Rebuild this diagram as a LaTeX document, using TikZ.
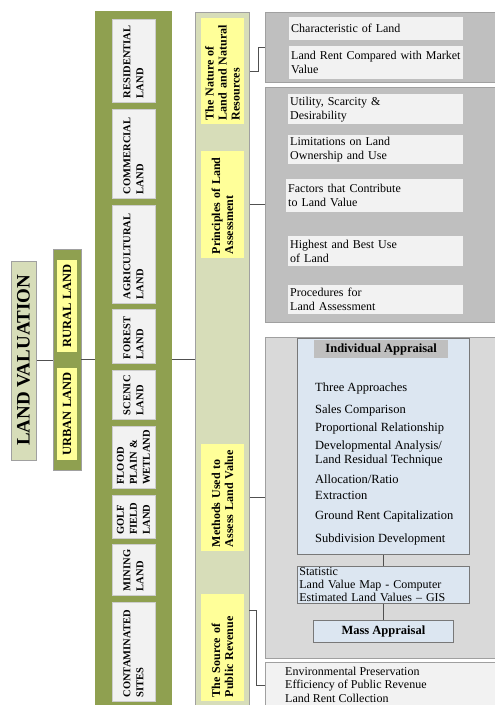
\documentclass[tikz,border=0pt]{standalone}
\usepackage{fontspec}
\setmainfont{Liberation Serif}
\definecolor{lvfill}{RGB}{215,221,185}
\definecolor{olive}{RGB}{143,160,80}
\definecolor{yel}{RGB}{255,255,153}
\definecolor{boxgray}{RGB}{242,242,242}
\definecolor{grpdark}{RGB}{191,191,191}
\definecolor{grpmid}{RGB}{217,217,217}
\definecolor{bluef}{RGB}{220,230,241}
\definecolor{linec}{RGB}{80,80,80}
\definecolor{bordc}{RGB}{160,160,160}
\definecolor{lbord}{RGB}{205,205,205}
\definecolor{iabord}{RGB}{120,120,120}
\begin{document}
\begin{tikzpicture}[x=1pt,y=-1pt,
  conn/.style={draw=linec, line width=1pt},
  lvbox/.style={rotate=90, draw=bordc, fill=lvfill, line width=1pt, inner sep=0pt,
    font=\bfseries\fontsize{19}{22}\selectfont},
  rbox/.style={rotate=90, fill=yel, inner sep=0pt, align=center,
    font=\bfseries\fontsize{12.5}{14}\selectfont},
  landbox/.style={rotate=90, draw=lbord, fill=boxgray, inner sep=0pt, align=left,
    minimum height=43, font=\bfseries\fontsize{10.5}{13}\selectfont},
  topicbox/.style={rotate=90, fill=yel, inner sep=0pt, align=left,
    minimum height=43, font=\bfseries\fontsize{12}{13}\selectfont},
  colbox/.style={anchor=north west, inner sep=0pt},
  grp/.style={anchor=north west, inner sep=0pt, draw=bordc, line width=1pt},
  txtbox/.style={anchor=north west, inner sep=0pt, fill=boxgray, align=left,
    font=\fontsize{12}{14}\selectfont},
  bluebox/.style={anchor=north west, inner sep=0pt, fill=bluef, draw=iabord, line width=0.8pt},
  ialine/.style={anchor=base west, inner sep=0pt, font=\fontsize{12.5}{14}\selectfont},
  plain/.style={anchor=base west, inner sep=0pt, font=\fontsize{12}{14}\selectfont}
]
\path[use as bounding box] (0,0) rectangle (495,705);
\clip (0,0) rectangle (495,705);

% left title
\node[lvbox, minimum width=199, minimum height=25] (lv) at (23.5,360.5) {LAND VALUATION};

% urban / rural
\node[colbox, draw=bordc, fill=olive, minimum width=28, minimum height=221] (ur) at (53,249) {};
\node[rbox, minimum width=92, minimum height=20] (rural) at (67,306) {RURAL LAND};
\node[rbox, minimum width=92, minimum height=20] (urban) at (67,414) {URBAN LAND};

% land types column
\node[colbox, fill=olive, minimum width=77, minimum height=720] (landcol) at (95,11) {};
\node[landbox, minimum width=83, text width=75] (res) at (133.5,60.5) {RESIDENTIAL\\LAND};
\node[landbox, minimum width=89, text width=81] (com) at (133.5,153.5) {COMMERCIAL\\LAND};
\node[landbox, minimum width=98, text width=90] (agr) at (133.5,254) {AGRICULTURAL\\LAND};
\node[landbox, minimum width=54, text width=46] (for) at (133.5,336) {FOREST\\LAND};
\node[landbox, minimum width=49, text width=41] (sce) at (133.5,394.5) {SCENIC\\LAND};
\node[landbox, minimum width=62, text width=55] (flo) at (133.5,457) {FLOOD\\PLAIN \&\\WETLAND};
\node[landbox, minimum width=43, text width=36] (gol) at (133.5,516.5) {GOLF\\FIELD\\LAND};
\node[landbox, minimum width=51, text width=43] (min) at (133.5,569.5) {MINING\\LAND};
\node[landbox, minimum width=99, text width=92] (con) at (133.5,651.5) {CONTAMINATED\\SITES};

% topics column
\node[colbox, draw=bordc, line width=1pt, fill=lvfill, minimum width=54, minimum height=720] (col2) at (195,12) {};
\node[topicbox, minimum width=106, text width=98] (nat) at (222.5,71) {The Nature of\\Land and Natural\\Resources};
\node[topicbox, minimum width=107, text width=99] (pri) at (222.5,204.5) {Principles of Land\\Assessment};
\node[topicbox, minimum width=107, text width=99] (met) at (222.5,497.5) {Methods Used to\\Assess Land Value};
\node[topicbox, minimum width=107, text width=99] (src) at (222.5,647.5) {The Source of\\Public Revenue};

% right groups
\node[grp, fill=grpdark, minimum width=235, minimum height=70] (g1) at (265,12) {};
\node[grp, fill=grpdark, minimum width=235, minimum height=235] (g2) at (265,87) {};
\node[grp, fill=grpmid, minimum width=235, minimum height=321] (g3) at (265,337) {};
\node[grp, fill=boxgray, minimum width=235, minimum height=60] (g4) at (265,662) {};

% group 1 items
\node[txtbox, minimum width=174, minimum height=23, text width=170] (cha) at (289,17) {Characteristic of Land};
\node[txtbox, minimum width=174, minimum height=33, text width=170] (rent) at (289,46) {Land Rent Compared with Market\\Value};

% group 2 items
\node[txtbox, minimum width=175, minimum height=30, text width=171] (uti) at (288,94) {Utility, Scarcity \&\\Desirability};
\node[txtbox, minimum width=175, minimum height=29, text width=171] (lim) at (288,135) {Limitations on Land\\Ownership and Use};
\node[txtbox, minimum width=177, minimum height=33, text width=173] (fac) at (286,179) {Factors that Contribute\\to Land Value};
\node[txtbox, minimum width=175, minimum height=30, text width=171] (hig) at (288,236) {Highest and Best Use\\of Land};
\node[txtbox, minimum width=175, minimum height=29, text width=171] (pro) at (288,285) {Procedures for\\Land Assessment};

% group 3 items
\node[bluebox, minimum width=172, minimum height=216] (ia) at (297,338) {};
\node[anchor=north west, inner sep=0pt, fill=grpdark, minimum width=134, minimum height=18,
  font=\bfseries\fontsize{12.5}{14}\selectfont] (iah) at (314,340) {Individual Appraisal};
\node[ialine] (t1) at (315,391) {Three Approaches};
\node[ialine] (t2) at (315,413) {Sales Comparison};
\node[ialine] (t3) at (315,431) {Proportional Relationship};
\node[ialine] (t4) at (315,449) {Developmental Analysis/};
\node[ialine] (t5) at (315,463) {Land Residual Technique};
\node[ialine] (t6) at (315,483) {Allocation/Ratio};
\node[ialine] (t7) at (315,499) {Extraction};
\node[ialine] (t8) at (315,519) {Ground Rent Capitalization};
\node[ialine] (t9) at (315,542) {Subdivision Development};

\node[bluebox, minimum width=172, minimum height=37, text width=168, align=left,
  font=\fontsize{12}{13}\selectfont] (stat) at (297,566)
  {Statistic\\Land Value Map - Computer\\Estimated Land Values – GIS};
\node[bluebox, minimum width=140, minimum height=22,
  font=\bfseries\fontsize{12.5}{14}\selectfont] (mass) at (313,620) {Mass Appraisal};

% group 4 text
\node[plain] (e1) at (285,675) {Environmental Preservation};
\node[plain] (e2) at (285,688.5) {Efficiency of Public Revenue};
\node[plain] (e3) at (285,702) {Land Rent Collection};

% connectors
\draw[conn] (lv.south) -- (lv.south -| ur.west);
\draw[conn] (ur.east |- 0,359.5) -- (landcol.west |- 0,359.5);
\draw[conn] (landcol.east |- 0,359.5) -- (col2.west |- 0,359.5);
\draw[conn] (col2.east |- nat) -- ++(8,0) |- (g1.west);
\draw[conn] (col2.east |- pri) -- (g2.west |- pri);
\draw[conn] (col2.east |- met) -- (g3.west |- met);
\coordinate (sa) at (249,610);
\coordinate (sb) at (265,685);
\draw[conn] (sa) -- ++(7,0) |- (sb);
\draw[conn] (ia.south) -- (stat.north);
\draw[conn] (stat.south) -- (mass.north);
\end{tikzpicture}
\end{document}
